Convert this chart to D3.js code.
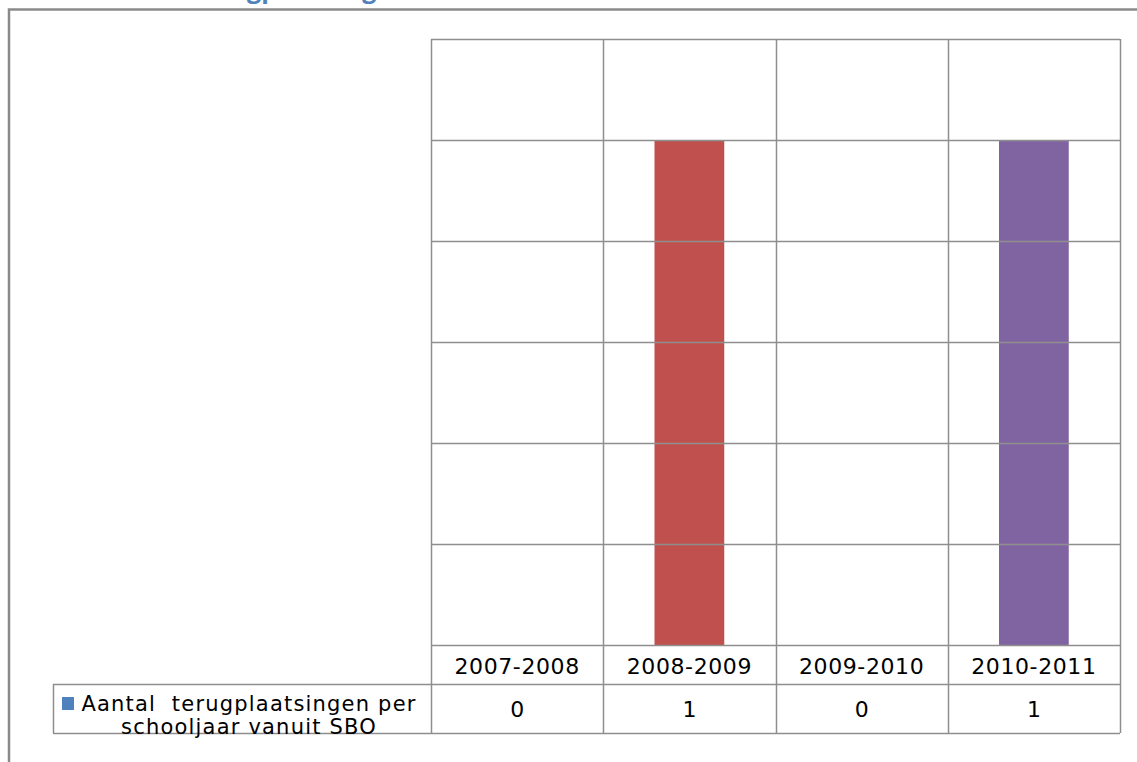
<!DOCTYPE html>
<html><head><meta charset="utf-8">
<script src="https://cdn.jsdelivr.net/npm/d3@7"></script>
<style>body{margin:0;background:#fff;overflow:hidden}svg{display:block}</style>
</head><body>
<script>
const categories = ["2007-2008","2008-2009","2009-2010","2010-2011"];
const values = [0,1,0,1];
const pointColors = ["#4F81BD","#C0504D","#9BBB59","#8064A2"];
const seriesName = ["Aantal  terugplaatsingen per","schooljaar vanuit SBO"];
const seriesColor = "#4F81BD";
const titleText = "Terugplaatsingen";
const yMax = 1.2;

(function () {
const W = 1137, H = 762;
const svg = d3.select("body").append("svg").attr("width", W).attr("height", H);
const font = "'DejaVu Sans', Verdana, sans-serif";
const gridColor = "#8e8e8e";

// cut-off title (only descenders visible)
svg.append("text").attr("x", 190).attr("y", -2)
  .attr("font-family", "'Open Sans', sans-serif").attr("font-weight", "bold")
  .attr("font-size", 25).attr("fill", "#4F81BD").text(titleText);

// outer frame
svg.append("path").attr("d", `M9,${H+5}V9.5H${W+5}`)
  .attr("fill", "none").attr("stroke", "#8a8a8a").attr("stroke-width", 2.5);

const pLeft = 431, pRight = 1120, pTop = 39, pBottom = 645;
const rowCat = 684, rowVal = 733, legendLeft = 53;

const x = d3.scaleBand().domain(categories).range([pLeft, pRight]).padding(0);
const y = d3.scaleLinear().domain([0, yMax]).range([pBottom, pTop]);

// bars
const bw = x.bandwidth() * 0.405;
svg.append("g").selectAll("rect").data(values).join("rect")
  .attr("x", (d, i) => x(categories[i]) + (x.bandwidth() - bw) / 2)
  .attr("y", d => y(d))
  .attr("width", bw)
  .attr("height", d => y(0) - y(d))
  .attr("fill", (d, i) => pointColors[i]);

const lines = svg.append("g").attr("stroke", gridColor).attr("stroke-width", 1.5).attr("fill", "none");
// horizontal gridlines
const ticks = y.ticks(6);
ticks.forEach(t => {
  lines.append("line").attr("x1", pLeft).attr("x2", pRight)
    .attr("y1", Math.round(y(t)) + 0.5).attr("y2", Math.round(y(t)) + 0.5);
});
// vertical category separators
const edges = categories.map(c => x(c)).concat([pRight]);
edges.forEach(e => {
  lines.append("line").attr("x1", Math.round(e) + 0.5).attr("x2", Math.round(e) + 0.5)
    .attr("y1", pTop).attr("y2", rowVal);
});
// data table lines
lines.append("line").attr("x1", legendLeft).attr("x2", pRight).attr("y1", rowCat + 0.5).attr("y2", rowCat + 0.5);
lines.append("line").attr("x1", legendLeft).attr("x2", pRight).attr("y1", rowVal + 0.5).attr("y2", rowVal + 0.5);
lines.append("line").attr("x1", legendLeft + 0.5).attr("x2", legendLeft + 0.5).attr("y1", rowCat).attr("y2", rowVal);

// category labels
svg.append("g").selectAll("text").data(categories).join("text")
  .attr("x", d => x(d) + x.bandwidth() / 2).attr("y", 674)
  .attr("text-anchor", "middle").attr("font-family", font).attr("font-size", 22)
  .attr("letter-spacing", 0.6)
  .attr("fill", "#000").text(d => d);

// values row
svg.append("g").selectAll("text").data(values).join("text")
  .attr("x", (d, i) => x(categories[i]) + x.bandwidth() / 2).attr("y", 717)
  .attr("text-anchor", "middle").attr("font-family", font).attr("font-size", 22)
  .attr("fill", "#000").text(d => d);

// legend key + label
svg.append("rect").attr("x", 62).attr("y", 697).attr("width", 12).attr("height", 13).attr("fill", seriesColor);
svg.append("text").attr("x", 249).attr("y", 711).attr("text-anchor", "middle")
  .attr("xml:space", "preserve").style("white-space", "pre")
  .attr("font-family", font).attr("font-size", 21).attr("letter-spacing", 1.2)
  .attr("fill", "#000").text(seriesName[0]);
svg.append("text").attr("x", 249).attr("y", 734).attr("text-anchor", "middle")
  .attr("font-family", font).attr("font-size", 21).attr("letter-spacing", 1.2)
  .attr("fill", "#000").text(seriesName[1]);
})();
</script>
</body></html>
